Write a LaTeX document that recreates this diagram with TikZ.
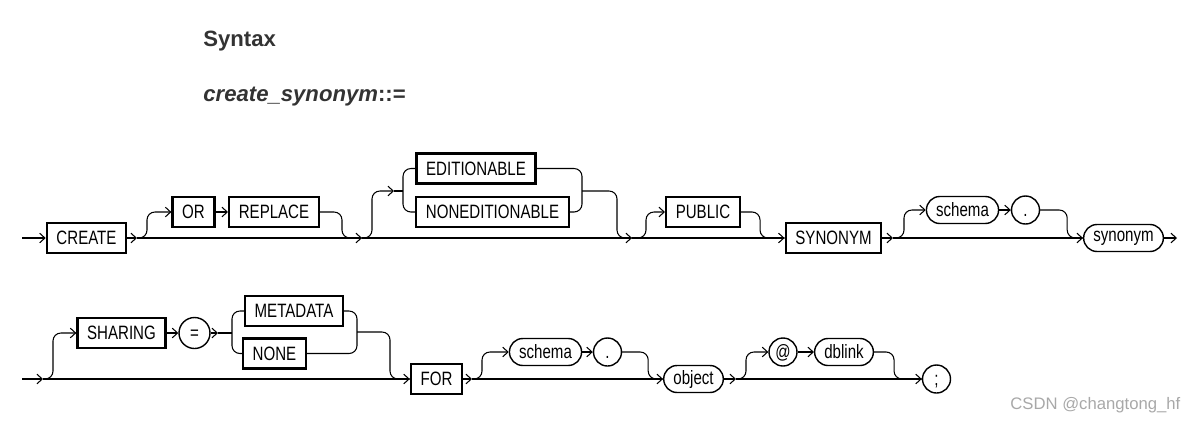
\documentclass[tikz,border=0pt]{standalone}
\usepackage{fontspec}
\setmainfont{Liberation Sans}
\newfontfamily\railfont[FakeStretch=0.78]{Liberation Sans}
\usetikzlibrary{arrows.meta, positioning}
\definecolor{titleGrey}{HTML}{333333}
\definecolor{markGrey}{HTML}{A8A8A8}
\tikzset{
  rail/.style    = {line width=0.6pt, rounded corners=4.5pt},
  arr/.style     = {-{Straight Barb[length=3pt, width=5.5pt]}},
  kwbox/.style   = {draw, line width=1.3pt, minimum height=0.6cm, inner xsep=5.5pt,
                    inner ysep=0pt, font=\railfont\fontsize{11}{13}\selectfont},
  idpill/.style  = {draw, line width=0.8pt, rounded corners=7.6pt, minimum height=0.54cm,
                    inner xsep=5.5pt, inner ysep=0pt, font=\railfont\fontsize{11}{13}\selectfont},
  symcirc/.style = {draw, circle, line width=0.8pt, minimum size=0.56cm, inner sep=0pt,
                    text height=7.9pt, text depth=0pt,
                    font=\railfont\fontsize{11}{13}\selectfont},
  ttl/.style     = {anchor=west, inner sep=0pt, titleGrey,
                    font=\fontsize{12.6}{15}\selectfont\bfseries},
}

\begin{document}
\begin{tikzpicture}[x=0.02cm, y=-0.02cm]
  \useasboundingbox (0,0) rectangle (1197,424);

  \node[ttl] (syntax) at (203,41) {Syntax};
  \node[ttl] (prod)   at (203,97) {\textit{create\_synonym}::=};

  % first line
  \node[kwbox]   (create)  at (86.5,238)  {CREATE};
  \node[kwbox]   (or)      at (193.5,212) {OR};
  \node[kwbox]   (replace) at (274,212)   {REPLACE};
  \node[kwbox]   (edit)    at (476,168.5) {EDITIONABLE};
  \node[kwbox]   (nonedit) at (492.5,212) {NONEDITIONABLE};
  \node[kwbox]   (public)  at (703,212)   {PUBLIC};
  \node[kwbox]   (synkw)   at (833.5,238) {SYNONYM};
  \node[idpill]  (schemaA) at (962.5,210) {schema};
  \node[symcirc] (dotA)    at (1025.5,210) {.};
  \node[idpill]  (synonym) at (1123.5,238) {synonym};

  \coordinate (sA) at (22,238);
  \coordinate (jA) at (137,238);
  \coordinate (jB) at (362,238);
  \coordinate (jC) at (632,238);
  \coordinate (jD) at (893,238);
  \coordinate (eA) at (1177,238);
  \coordinate (bA) at (394,191);
  \coordinate (blA) at (403,191);
  \coordinate (brA) at (582,191);

  \draw[rail, arr] (sA) -- (create.west);
  \draw[rail, arr] (create.east) -- (jA);
  \draw[rail, arr] (jA) -- (jB);
  \draw[rail, arr] (jA) -- ++(10,0) |- (or.west);
  \draw[rail, arr] (or.east) -- (replace.west);
  \draw[rail] (replace.east) -- ++(22,0) |- (jB);

  \draw[rail, arr] (jB) -- (jC);
  \draw[rail, arr] (jB) -- ++(10,0) |- (bA);
  \draw[rail] (bA) -- (blA);
  \draw[rail] (edit.west) -| (blA) |- (nonedit.west);
  \draw[rail] (edit.east) -| (brA) |- (nonedit.east);
  \draw[rail] (brA) -- ++(35,0) |- (jC);

  \draw[rail, arr] (jC) -- (synkw.west);
  \draw[rail, arr] (jC) -- ++(14,0) |- (public.west);
  \draw[rail] (public.east) -- ++(19,0) |- (synkw.west);

  \draw[rail, arr] (synkw.east) -- (jD);
  \draw[rail, arr] (jD) -- (synonym.west);
  \draw[rail, arr] (jD) -- ++(11,0) |- (schemaA.west);
  \draw[rail, arr] (schemaA.east) -- (dotA.west);
  \draw[rail] (dotA.east) -- ++(27,0) |- (synonym.west);
  \draw[rail, arr] (synonym.east) -- (eA);

  % second line
  \node[kwbox]   (sharing)  at (121.5,333) {SHARING};
  \node[symcirc, minimum size=0.62cm] (eq) at (194.5,333) {=};
  \node[kwbox]   (metadata) at (294,311)   {METADATA};
  \node[kwbox]   (none)     at (274.5,353.5) {NONE};
  \node[kwbox]   (for)      at (436.5,379) {FOR};
  \node[idpill]  (schemaB)  at (545.5,352) {schema};
  \node[symcirc] (dotB)     at (607.5,352) {.};
  \node[idpill]  (object)   at (693.5,379) {object};
  \node[symcirc] (atsign)   at (783,352)   {@};
  \node[idpill]  (dblink)   at (844,352)   {dblink};
  \node[symcirc] (semi)     at (936.5,379) {;};

  \coordinate (sB) at (22,379);
  \coordinate (kA) at (43,379);
  \coordinate (kB) at (472,379);
  \coordinate (kC) at (736,379);
  \coordinate (bB) at (218,333);
  \coordinate (blB) at (232,333);
  \coordinate (brB) at (357,332);

  \draw[rail, arr] (sB) -- (kA);
  \draw[rail, arr] (kA) -- (for.west);
  \draw[rail, arr] (kA) -- ++(10,0) |- (sharing.west);
  \draw[rail, arr] (sharing.east) -- (eq.west);
  \draw[rail, arr] (eq.east) -- (bB);
  \draw[rail] (bB) -- (blB);
  \draw[rail] (metadata.west) -| (blB) |- (none.west);
  \draw[rail] (metadata.east) -| (brB) |- (none.east);
  \draw[rail] (brB) -- ++(33,0) |- (for.west);

  \draw[rail, arr] (for.east) -- (kB);
  \draw[rail, arr] (kB) -- (object.west);
  \draw[rail, arr] (kB) -- ++(10,0) |- (schemaB.west);
  \draw[rail, arr] (schemaB.east) -- (dotB.west);
  \draw[rail] (dotB.east) -- ++(26,0) |- (object.west);

  \draw[rail, arr] (object.east) -- (kC);
  \draw[rail, arr] (kC) -- (semi.west);
  \draw[rail, arr] (kC) -- ++(10,0) |- (atsign.west);
  \draw[rail, arr] (atsign.east) -- (dblink.west);
  \draw[rail] (dblink.east) -- ++(20,0) |- (semi.west);

  \node[anchor=west, inner sep=0pt, markGrey, font=\fontsize{9.5}{11}\selectfont]
    (mark) at (1010,405) {CSDN @changtong\_hf};
\end{tikzpicture}
\end{document}
